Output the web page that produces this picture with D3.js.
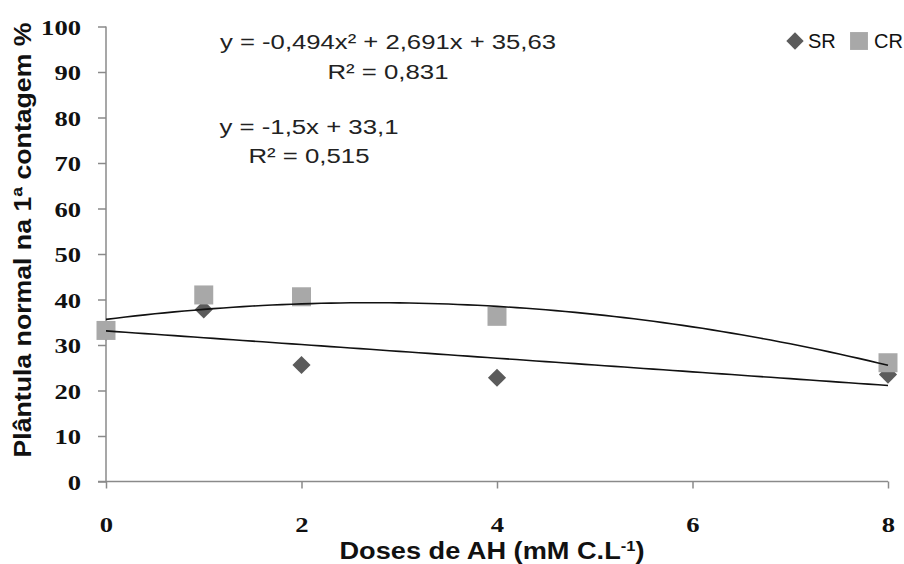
<!DOCTYPE html>
<html>
<head>
<meta charset="utf-8">
<script src="https://cdn.jsdelivr.net/npm/d3@7"></script>
<style>
  body { margin: 0; background: #fff; }
  svg { display: block; }
</style>
</head>
<body>
<div id="container"></div>
<script>
// doses (x) and the two series
var doses = [0, 1, 2, 4, 8];
var srValues = [33.0, 37.8, 25.6, 22.8, 23.5];
var crValues = [33.2, 41.0, 40.6, 36.3, 26.1];
var xTicks = [0, 2, 4, 6, 8];
var yTicks = [0, 10, 20, 30, 40, 50, 60, 70, 80, 90, 100];
// trendline coefficients as printed on the chart
var crFit = [-0.494, 2.691, 35.63]; // quadratic
var srFit = [-1.5, 33.1];           // linear
var eqLabels = ["y = -0,494x\u00B2 + 2,691x + 35,63", "R\u00B2 = 0,831",
                "y = -1,5x + 33,1", "R\u00B2 = 0,515"];
var legendNames = ["SR", "CR"];

var width = 904, height = 564;
var srColor = "#5b5b5b", crColor = "#a8a8a8", axisColor = "#8a8a8a";

var svg = d3.select("#container").append("svg")
    .attr("width", width)
    .attr("height", height);

var x = d3.scaleLinear().domain([0, 8]).range([106, 888]);
var y = d3.scaleLinear().domain([0, 100]).range([481.5, 26.5]);

// axes
var yAxis = svg.append("g")
    .attr("transform", "translate(" + x(0) + ",0)")
    .call(d3.axisLeft(y).tickValues(yTicks).tickSize(8).tickPadding(17));
var xAxis = svg.append("g")
    .attr("transform", "translate(0," + y(0) + ")")
    .call(d3.axisBottom(x).tickValues(xTicks).tickSize(7).tickPadding(28));

svg.selectAll(".domain").attr("stroke", axisColor).attr("stroke-width", 1.5);
svg.selectAll(".tick line").attr("stroke", axisColor).attr("stroke-width", 1.5);
yAxis.select(".domain").attr("d", "M0," + y(100) + "V" + y(0));
xAxis.select(".domain").attr("d", "M" + (x(0) - 8) + ",0H" + x(8));

svg.selectAll(".tick text")
    .attr("fill", "#111")
    .style("font-family", "'Liberation Serif', 'Times New Roman', serif")
    .style("font-weight", "bold")
    .style("font-size", "22px")
    .attr("textLength", function(d) { return String(d).length * 13.3; })
    .attr("lengthAdjust", "spacingAndGlyphs");
yAxis.selectAll(".tick text").attr("dy", "0.35em");
xAxis.selectAll(".tick text").attr("dy", "0.7em");

// axis titles
svg.append("text")
    .attr("transform", "translate(31," + 240 + ") rotate(-90)")
    .attr("text-anchor", "middle")
    .attr("textLength", 435)
    .attr("lengthAdjust", "spacingAndGlyphs")
    .style("font-family", "'Liberation Sans', Arial, sans-serif")
    .style("font-weight", "bold")
    .style("font-size", "24px")
    .attr("fill", "#111")
    .text("Pl\u00E2ntula normal na 1\u00AA contagem %");

var xTitle = svg.append("text")
    .attr("x", 492)
    .attr("y", 559)
    .attr("text-anchor", "middle")
    .attr("textLength", 305)
    .attr("lengthAdjust", "spacingAndGlyphs")
    .style("font-family", "'Liberation Sans', Arial, sans-serif")
    .style("font-weight", "bold")
    .style("font-size", "23px")
    .attr("fill", "#111");
xTitle.append("tspan").text("Doses de AH (mM C.L");
xTitle.append("tspan").attr("dy", -8).style("font-size", "14px").text("-1");
xTitle.append("tspan").attr("dy", 8).text(")");

// markers: SR first, CR on top
var srData = doses.map(function(d, i) { return { x: d, v: srValues[i] }; });
var crData = doses.map(function(d, i) { return { x: d, v: crValues[i] }; });

var diamond = d3.symbol().type(d3.symbolSquare).size(165);
var square = d3.symbol().type(d3.symbolSquare).size(361);

svg.selectAll(".sr")
    .data(srData)
    .enter()
    .append("path")
    .attr("class", "sr")
    .attr("d", diamond)
    .attr("transform", function(d) { return "translate(" + x(d.x) + "," + y(d.v) + ") rotate(45)"; })
    .attr("fill", srColor);

svg.selectAll(".cr")
    .data(crData)
    .enter()
    .append("path")
    .attr("class", "cr")
    .attr("d", square)
    .attr("transform", function(d) { return "translate(" + x(d.x) + "," + y(d.v) + ")"; })
    .attr("fill", crColor);

// trendlines
var xs = d3.range(0, 8.001, 0.1);
var line = d3.line()
    .x(function(d) { return x(d[0]); })
    .y(function(d) { return y(d[1]); });

svg.append("path")
    .datum(xs.map(function(t) { return [t, crFit[0] * t * t + crFit[1] * t + crFit[2]]; }))
    .attr("d", line)
    .attr("fill", "none")
    .attr("stroke", "#111")
    .attr("stroke-width", 1.6);

svg.append("path")
    .datum(xs.map(function(t) { return [t, srFit[0] * t + srFit[1]]; }))
    .attr("d", line)
    .attr("fill", "none")
    .attr("stroke", "#111")
    .attr("stroke-width", 1.6);

// trendline equations: [centre x, baseline y, width]
var eqPos = [[388, 49, 336], [388, 79, 121], [309, 134, 179], [309, 163, 121]];
svg.selectAll(".eq")
    .data(eqLabels)
    .enter()
    .append("text")
    .attr("class", "eq")
    .attr("x", function(d, i) { return eqPos[i][0]; })
    .attr("y", function(d, i) { return eqPos[i][1]; })
    .attr("text-anchor", "middle")
    .attr("textLength", function(d, i) { return eqPos[i][2]; })
    .attr("lengthAdjust", "spacingAndGlyphs")
    .style("font-family", "'Liberation Sans', Arial, sans-serif")
    .style("font-size", "20px")
    .attr("fill", "#222")
    .text(function(d) { return d; });

// legend
var legend = svg.append("g");
legend.append("path")
    .attr("d", d3.symbol().type(d3.symbolSquare).size(150))
    .attr("transform", "translate(795,41) rotate(45)")
    .attr("fill", srColor);
legend.append("text")
    .attr("x", 808).attr("y", 48)
    .style("font-family", "'Liberation Sans', Arial, sans-serif")
    .style("font-size", "20px")
    .attr("fill", "#111")
    .text(legendNames[0]);
legend.append("path")
    .attr("d", d3.symbol().type(d3.symbolSquare).size(320))
    .attr("transform", "translate(859,41)")
    .attr("fill", crColor);
legend.append("text")
    .attr("x", 874).attr("y", 48)
    .style("font-family", "'Liberation Sans', Arial, sans-serif")
    .style("font-size", "20px")
    .attr("fill", "#111")
    .text(legendNames[1]);
</script>
</body>
</html>
